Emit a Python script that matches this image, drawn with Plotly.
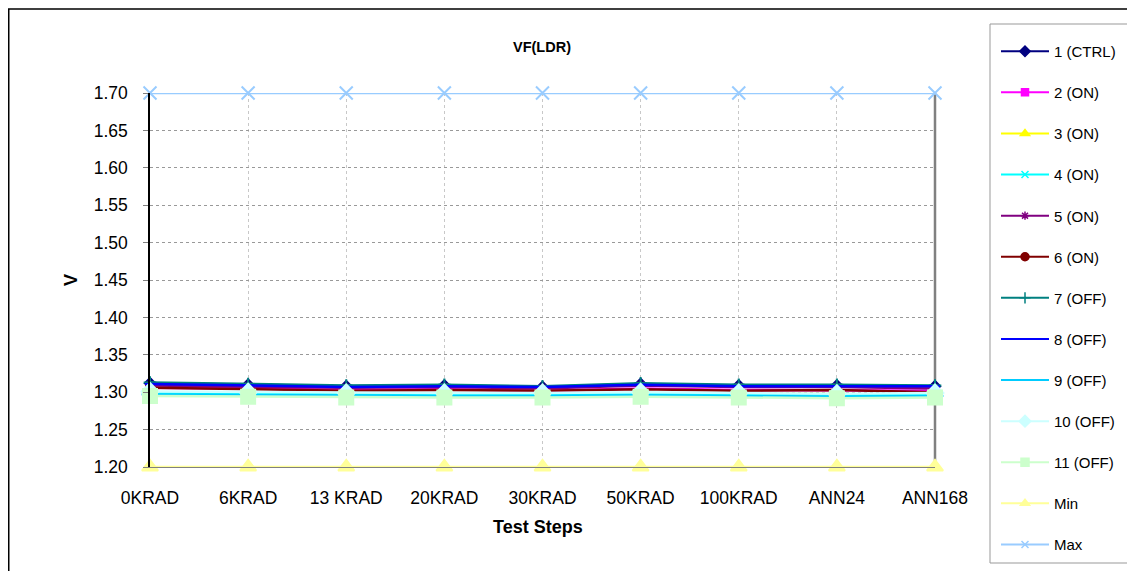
import plotly.graph_objects as go

categories = ["0KRAD", "6KRAD", "13 KRAD", "20KRAD", "30KRAD", "50KRAD", "100KRAD", "ANN24", "ANN168"]

s1_ctrl = [1.312, 1.310, 1.308, 1.309, 1.307, 1.311, 1.309, 1.309, 1.308]
s2_on = [1.306, 1.305, 1.303, 1.304, 1.302, 1.305, 1.303, 1.303, 1.302]
s3_on = [1.300, 1.299, 1.298, 1.298, 1.297, 1.299, 1.298, 1.297, 1.297]
s4_on = [1.299, 1.298, 1.297, 1.297, 1.296, 1.298, 1.297, 1.296, 1.296]
s5_on = [1.309, 1.308, 1.306, 1.307, 1.305, 1.309, 1.307, 1.307, 1.305]
s6_on = [1.306, 1.304, 1.302, 1.303, 1.302, 1.304, 1.302, 1.303, 1.300]
s7_off = [1.313, 1.311, 1.309, 1.310, 1.308, 1.312, 1.310, 1.310, 1.309]
s8_off = [1.311, 1.309, 1.307, 1.308, 1.307, 1.310, 1.308, 1.308, 1.308]
s9_off = [1.297, 1.296, 1.295, 1.295, 1.295, 1.296, 1.295, 1.294, 1.295]
s10_off = [1.301, 1.300, 1.299, 1.299, 1.299, 1.300, 1.299, 1.298, 1.299]
s11_off = [1.295, 1.294, 1.293, 1.293, 1.293, 1.294, 1.293, 1.292, 1.293]
min_vals = [1.20] * 9
max_vals = [1.70] * 9

y_ticks = [1.20, 1.25, 1.30, 1.35, 1.40, 1.45, 1.50, 1.55, 1.60, 1.65, 1.70]

series = [
    ("1 (CTRL)", s1_ctrl, "#000080", "diamond", 8, 8),
    ("2 (ON)", s2_on, "#FF00FF", "square", 7, 7),
    ("3 (ON)", s3_on, "#FFFF00", "triangle-up", 8, 8),
    ("4 (ON)", s4_on, "#00FFFF", "x-thin-open", 8, 7),
    ("5 (ON)", s5_on, "#800080", "asterisk-open", 8, 7),
    ("6 (ON)", s6_on, "#800000", "circle", 8, 8),
    ("7 (OFF)", s7_off, "#008080", "cross-thin-open", 9, 8),
    ("8 (OFF)", s8_off, "#0000FF", "line-ew-open", 7, 6),
    ("9 (OFF)", s9_off, "#00CCFF", "line-ew-open", 12, 7),
    ("10 (OFF)", s10_off, "#CCFFFF", "diamond", 13, 9),
    ("11 (OFF)", s11_off, "#CCFFCC", "square", 14, 8),
    ("Min", min_vals, "#FFFF99", "triangle-up", 14, 8),
    ("Max", max_vals, "#99CCFF", "x-thin-open", 13, 7),
]

fig = go.Figure()
for i, (name, vals, color, sym, size, lsize) in enumerate(series):
    fig.add_trace(go.Scatter(
        x=categories, y=vals, name=name, mode="lines+markers",
        line=dict(color=color, width=2.5),
        marker=dict(symbol=sym, size=size, color=color,
                    line=dict(color=color, width=2)),
        showlegend=False, legendgroup="g%d" % i,
        cliponaxis=False,
    ))
for i, (name, vals, color, sym, size, lsize) in enumerate(series):
    fig.add_trace(go.Scatter(
        x=[None], y=[None], name=name, mode="lines+markers",
        line=dict(color=color, width=2),
        marker=dict(symbol=sym, size=lsize, color=color,
                    line=dict(color=color, width=1.5)),
        showlegend=True, legendgroup="g%d" % i,
    ))

# figure is placed 8px from the page corner (default body margin)
W, H = 1127, 563
L, R, T, B = 142, 927, 85, 459


def px(xpix):
    return (xpix - 8 - L) / (R - L)


def py(ypix):
    return (B - (ypix - 8)) / (B - T)


fig.update_layout(
    width=W, height=H,
    margin=dict(l=L, r=W - R, t=T, b=H - B),
    paper_bgcolor="white", plot_bgcolor="white",
    font=dict(family="Liberation Sans, Arial, sans-serif", color="black", size=16),
    title=dict(text="<b>VF(LDR)</b>", x=534 / W, xanchor="center",
               y=1 - 39 / H, yanchor="middle", font=dict(size=14.5)),
    showlegend=True,
    legend=dict(
        x=px(996), y=py(35), xanchor="left", yanchor="top",
        borderwidth=0, bgcolor="rgba(0,0,0,0)",
        font=dict(size=15), tracegroupgap=18.6, traceorder="grouped",
        itemwidth=48, maxheight=620, itemsizing="trace",
    ),
    xaxis=dict(
        type="category", range=[0, 8],
        showgrid=True, gridcolor="#c8c8c8", griddash="dot", gridwidth=1,
        showline=True, linecolor="#808080", linewidth=1,
        ticks="", tickfont=dict(size=17.5), ticklabelstandoff=15,
        zeroline=False,
    ),
    yaxis=dict(
        range=[1.2, 1.7], tickvals=y_ticks, tickformat=".2f",
        showgrid=True, gridcolor="#999999", griddash="dot", gridwidth=1,
        showline=True, linecolor="black", linewidth=1.5,
        ticks="outside", ticklen=5, tickcolor="#808080",
        tickfont=dict(size=17.5), ticklabelstandoff=12,
        title=dict(text="<b>V</b>", font=dict(size=18), standoff=11),
        zeroline=False,
    ),
    annotations=[dict(
        text="<b>Test Steps</b>", xref="paper", yref="paper",
        x=px(538), y=py(527), xanchor="center", yanchor="middle",
        showarrow=False, font=dict(size=18),
    )],
)

# outer chart frame
fig.add_shape(type="rect", xref="paper", yref="paper",
              x0=(0.75 - L) / (R - L), x1=(W + 5 - L) / (R - L),
              y0=(B - (H + 5)) / (B - T), y1=(B - 1) / (B - T),
              line=dict(color="black", width=1.5), fillcolor="rgba(0,0,0,0)", layer="below")
# legend frame
fig.add_shape(type="rect", xref="paper", yref="paper",
              x0=px(990), x1=px(1128), y0=py(563), y1=py(24),
              line=dict(color="#999999", width=1), fillcolor="white", layer="below")
# right border of the plot area
fig.add_shape(type="line", xref="paper", yref="paper", x0=1, x1=1, y0=0, y1=1,
              line=dict(color="#808080", width=2.5), layer="below")

fig.write_html("out.html")
